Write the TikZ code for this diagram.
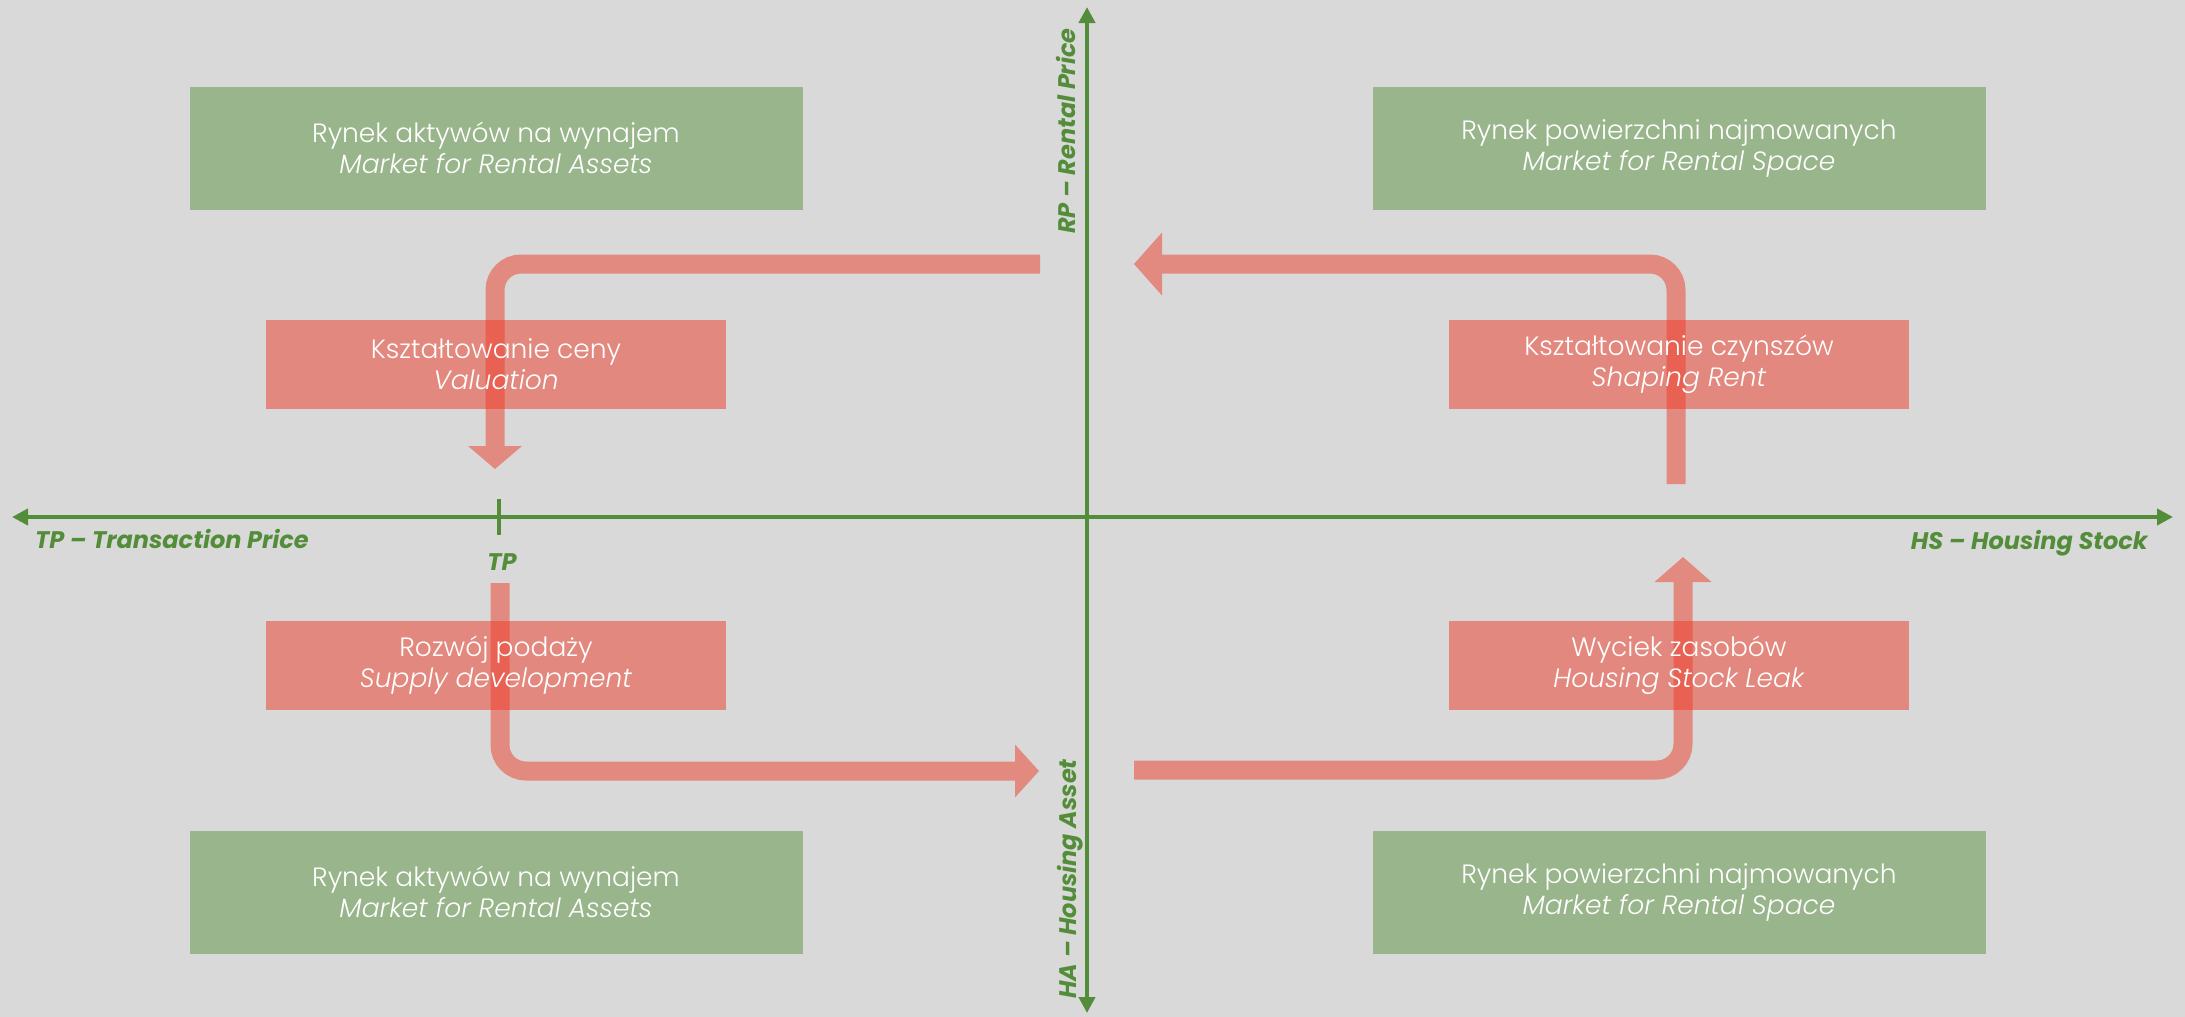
\documentclass[tikz,border=0pt]{standalone}
\usepackage{fontspec}
\setmainfont{Poppins}
\newfontfamily\lightfont{Poppins}[UprightFont=* Light, ItalicFont=* Light Italic]
\usetikzlibrary{arrows.meta}
\definecolor{bg}{HTML}{D9D9D9}
\definecolor{axisgreen}{RGB}{84,141,58}
\definecolor{boxgreen}{RGB}{153,181,139}
\definecolor{arrowred}{RGB}{227,138,128}
\definecolor{boxred}{RGB}{237,57,37}
\begin{document}
\begin{tikzpicture}[x=1pt,y=-1pt,
  boxtext/.style={text=white, align=center, inner sep=0pt, font=\lightfont\fontsize{26.5}{31}\selectfont},
  greenbox/.style={boxtext, fill=boxgreen, minimum width=613pt, minimum height=123pt},
  redbox/.style={boxtext, fill=boxred, fill opacity=0.5, text opacity=1, minimum width=460pt, minimum height=89pt},
  axisline/.style={draw=axisgreen, line width=4pt},
  axislabel/.style={text=axisgreen, inner sep=0pt, font=\fontsize{24}{28}\selectfont\bfseries\itshape},
  flow/.style={draw=arrowred, line width=19pt, rounded corners=26pt},
]
\fill[bg] (0,0) rectangle (2185,1017);
\useasboundingbox (0,0) rectangle (2185,1017);

% axes
\coordinate (xl) at (12,517);
\coordinate (xr) at (2173,517);
\coordinate (yt) at (1087,7);
\coordinate (yb) at (1087,1013);
\draw[axisline, {Triangle[width=16pt,length=16pt]}-{Triangle[width=16pt,length=16pt]}] (xl) -- (xr);
\draw[axisline, {Triangle[width=16pt,length=16pt]}-{Triangle[width=16pt,length=16pt]}] (yt) -- (yb);
\coordinate (tickt) at (499,499);
\coordinate (tickb) at (499,535);
\draw[axisline] (tickt) -- (tickb);

% flow arrows
\coordinate (a1) at (1040,264); \coordinate (a2) at (495,264); \coordinate (a3) at (495,469);
\draw[flow, -{Triangle[width=54pt,length=23pt,line width=0pt]}] (a1) -- (a2) -- (a3);
\coordinate (b1) at (1676,484); \coordinate (b2) at (1676,264); \coordinate (b3) at (1134,264);
\draw[flow, -{Triangle[width=63pt,length=28pt,line width=0pt]}] (b1) -- (b2) -- (b3);
\coordinate (c1) at (500,583); \coordinate (c2) at (500,771); \coordinate (c3) at (1039,771);
\draw[flow, -{Triangle[width=53pt,length=24pt,line width=0pt]}] (c1) -- (c2) -- (c3);
\coordinate (d1) at (1134,770); \coordinate (d2) at (1683,770); \coordinate (d3) at (1683,557);
\draw[flow, -{Triangle[width=57pt,length=25pt,line width=0pt]}] (d1) -- (d2) -- (d3);

% red boxes
\node[redbox] (rV) at (496,364) {Kształtowanie ceny\\ \textit{Valuation}};
\node[redbox] (rS) at (1679,364) {Kształtowanie czynszów\\ \textit{Shaping Rent}};
\node[redbox] (rP) at (496,665) {Rozwój podaży\\ \textit{Supply development}};
\node[redbox] (rL) at (1679,665) {Wyciek zasobów\\ \textit{Housing Stock Leak}};

% green boxes
\node[greenbox] (gTL) at (496,148) {Rynek aktywów na wynajem\\ \textit{Market for Rental Assets}};
\node[greenbox] (gTR) at (1679,148) {Rynek powierzchni najmowanych\\ \textit{Market for Rental Space}};
\node[greenbox] (gBL) at (496,892) {Rynek aktywów na wynajem\\ \textit{Market for Rental Assets}};
\node[greenbox] (gBR) at (1679,892) {Rynek powierzchni najmowanych\\ \textit{Market for Rental Space}};

% axis labels
\node[axislabel, anchor=base west] (lTP) at (35,548) {TP – Transaction Price};
\node[axislabel, anchor=base east] (lHS) at (2148,549) {HS – Housing Stock};
\node[axislabel, rotate=90, anchor=base] (lRP) at (1075,131) {RP – Rental Price};
\node[axislabel, rotate=90, anchor=base] (lHA) at (1076,879) {HA – Housing Asset};
\node[axislabel] (tp) at (502,562) {TP};
\end{tikzpicture}
\end{document}
